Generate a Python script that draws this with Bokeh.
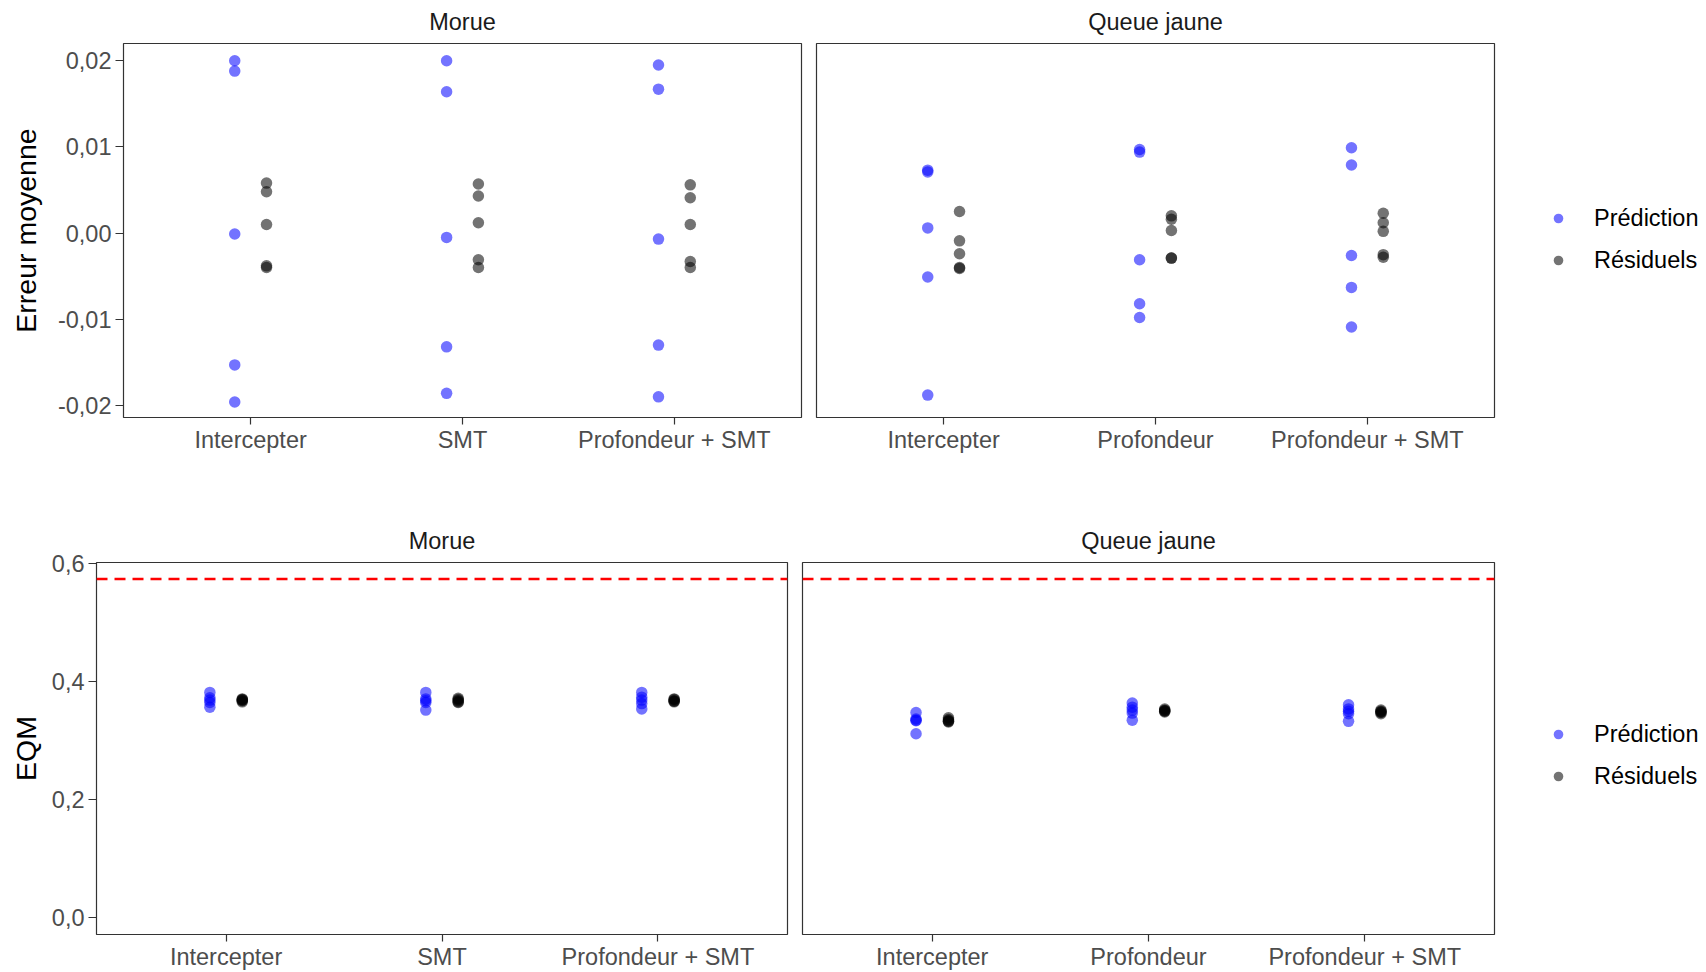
from bokeh.plotting import figure
from bokeh.layouts import row, column
from bokeh.models import (Range1d, FixedTicker, Span, Legend, LegendItem,
                          ColumnDataSource)
from bokeh.transform import dodge
from bokeh.embed import file_html
from bokeh.resources import INLINE

FONT = "Liberation Sans"

# ---------------- data ----------------
models_morue = ["Intercepter", "SMT", "Profondeur + SMT"]
models_qj = ["Intercepter", "Profondeur", "Profondeur + SMT"]

# Erreur moyenne (mean error), 5 folds per model
em_morue_pred = [
    [0.0200, 0.0188, -0.0001, -0.0153, -0.0196],
    [0.0200, 0.0164, -0.0005, -0.0132, -0.0186],
    [0.0195, 0.0167, -0.0007, -0.0130, -0.0190],
]
em_morue_resid = [
    [0.0058, 0.0048, 0.0010, -0.0038, -0.0040],
    [0.0057, 0.0043, 0.0012, -0.0031, -0.0040],
    [0.0056, 0.0041, 0.0010, -0.0033, -0.0040],
]
em_qj_pred = [
    [0.0073, 0.0071, 0.0006, -0.0051, -0.0188],
    [0.0097, 0.0094, -0.0031, -0.0082, -0.0098],
    [0.0099, 0.0079, -0.0026, -0.0063, -0.0109],
]
em_qj_resid = [
    [0.0025, -0.0009, -0.0024, -0.0040, -0.0041],
    [0.0020, 0.0016, 0.0003, -0.0029, -0.0029],
    [0.0023, 0.0012, 0.0002, -0.0025, -0.0028],
]

# EQM (mean squared error)
eqm_morue_pred = [
    [0.382, 0.373, 0.369, 0.365, 0.357],
    [0.382, 0.371, 0.368, 0.365, 0.352],
    [0.382, 0.374, 0.369, 0.363, 0.354],
]
eqm_morue_resid = [
    [0.371, 0.370, 0.369, 0.368, 0.366],
    [0.372, 0.370, 0.368, 0.366, 0.365],
    [0.371, 0.370, 0.368, 0.367, 0.366],
]
eqm_qj_pred = [
    [0.348, 0.337, 0.335, 0.334, 0.312],
    [0.364, 0.357, 0.352, 0.347, 0.335],
    [0.361, 0.354, 0.350, 0.346, 0.333],
]
eqm_qj_resid = [
    [0.339, 0.336, 0.334, 0.333, 0.332],
    [0.354, 0.352, 0.351, 0.350, 0.349],
    [0.352, 0.350, 0.349, 0.348, 0.346],
]
eqm_reference = 0.574

em_ticks = [-0.02, -0.01, 0.0, 0.01, 0.02]
em_tick_labels = ["-0,02", "-0,01", "0,00", "0,01", "0,02"]
eqm_ticks = [0.0, 0.2, 0.4, 0.6]
eqm_tick_labels = ["0,0", "0,2", "0,4", "0,6"]

legend_labels = ["Prédiction", "Résiduels"]
series_colors = ["blue", "black"]

# ---------------- style ----------------
TICK_SIZE = "23.5px"
TITLE_SIZE = "28.5px"
GREY30 = "#4D4D4D"
GREY20 = "#333333"
DOT = 11.5
ALPHA = 0.55


def to_source(values):
    xs, ys = [], []
    for i, vals in enumerate(values):
        for v in vals:
            xs.append(i + 1)
            ys.append(v)
    return ColumnDataSource(dict(x=xs, y=ys))


def make_panel(title, cats, srcs, yr, width, height, mbl, mbr, mbt, mbb,
               title_standoff, yticks=None, ylabels=None, ytitle=None,
               ytitle_standoff=10, hline=None):
    p = figure(width=width, height=height, output_backend="svg",
               toolbar_location=None,
               x_range=Range1d(0.4, len(cats) + 0.6), y_range=Range1d(*yr),
               min_border_left=mbl, min_border_right=mbr,
               min_border_top=mbt, min_border_bottom=mbb,
               y_axis_location="left" if yticks is not None else None)
    p.title.text = title
    p.title.align = "center"
    p.title.vertical_align = "top"
    p.title.text_font = FONT
    p.title.text_font_size = TICK_SIZE
    p.title.text_font_style = "normal"
    p.title.text_color = "#1A1A1A"
    p.title.standoff = title_standoff
    p.grid.visible = False
    p.outline_line_color = GREY20
    p.outline_line_width = 1.2
    p.background_fill_color = "white"
    p.border_fill_color = "white"

    xa = p.xaxis[0]
    xa.ticker = FixedTicker(ticks=list(range(1, len(cats) + 1)))
    xa.major_label_overrides = {i + 1: c for i, c in enumerate(cats)}
    xa.axis_line_color = None
    xa.major_tick_line_color = GREY20
    xa.major_tick_line_width = 1.2
    xa.major_tick_out = 7
    xa.major_tick_in = 0
    xa.minor_tick_line_color = None
    xa.major_label_standoff = 2
    xa.major_label_text_font = FONT
    xa.major_label_text_font_size = TICK_SIZE
    xa.major_label_text_color = GREY30

    if yticks is not None:
        ya = p.yaxis[0]
        ya.ticker = FixedTicker(ticks=yticks)
        ya.major_label_overrides = dict(zip(yticks, ylabels))
        ya.axis_line_color = None
        ya.major_tick_line_color = GREY20
        ya.major_tick_line_width = 1.2
        ya.major_tick_out = 8
        ya.major_tick_in = 0
        ya.minor_tick_line_color = None
        ya.major_label_standoff = 4
        ya.major_label_text_font = FONT
        ya.major_label_text_font_size = TICK_SIZE
        ya.major_label_text_color = GREY30
        ya.axis_label = ytitle
        ya.axis_label_text_font = FONT
        ya.axis_label_text_font_size = TITLE_SIZE
        ya.axis_label_text_font_style = "normal"
        ya.axis_label_text_color = "black"
        ya.axis_label_standoff = ytitle_standoff

    if hline is not None:
        p.add_layout(Span(location=hline, dimension="width", line_color="red",
                          line_width=2.5, line_dash="11 7"))

    for src, off, col in zip(srcs, (-0.075, 0.075), series_colors):
        p.scatter(x=dodge("x", off), y="y", source=src, size=DOT,
                  fill_color=col, line_color=None, fill_alpha=ALPHA)
    return p


def make_legend(srcs, width, height, mbt, mbb, loc):
    # legend-only panel; its ranges exclude the data so only the key is drawn
    lf = figure(width=width, height=height, output_backend="svg",
                toolbar_location=None, x_axis_location=None,
                y_axis_location=None, min_border_left=0, min_border_right=0,
                min_border_top=mbt, min_border_bottom=mbb,
                outline_line_color=None,
                x_range=Range1d(100, 101), y_range=Range1d(100, 101))
    lf.grid.visible = False
    lf.border_fill_color = "white"
    rs = [lf.scatter(x="x", y="y", source=src, size=DOT, fill_color=col,
                     line_color=None, fill_alpha=ALPHA)
          for src, col in zip(srcs, series_colors)]
    leg = Legend(items=[LegendItem(label=l, renderers=[r])
                        for l, r in zip(legend_labels, rs)],
                 location=loc, padding=0, margin=0, spacing=4,
                 glyph_width=24, glyph_height=38, label_height=38,
                 label_standoff=24, border_line_color=None,
                 background_fill_alpha=0,
                 label_text_font=FONT, label_text_font_size=TICK_SIZE,
                 label_text_color="black")
    lf.add_layout(leg)
    return lf


TOP_H = 510
BOT_H = 462
em_range = (-0.0214, 0.0220)
eqm_range = (-0.028, 0.602)

s_em_morue = [to_source(em_morue_pred), to_source(em_morue_resid)]
s_em_qj = [to_source(em_qj_pred), to_source(em_qj_resid)]
s_eqm_morue = [to_source(eqm_morue_pred), to_source(eqm_morue_resid)]
s_eqm_qj = [to_source(eqm_qj_pred), to_source(eqm_qj_resid)]

f1 = make_panel("Morue", models_morue, s_em_morue, em_range,
                808, TOP_H, 123, 7, 43, 93, 13, em_ticks, em_tick_labels,
                "Erreur moyenne", 13)
f2 = make_panel("Queue jaune", models_qj, s_em_qj, em_range,
                688, TOP_H, 8, 2, 43, 93, 13)
l1 = make_legend(s_em_qj, 210, TOP_H, 43, 93, (50, 138))

f3 = make_panel("Morue", models_morue, s_eqm_morue, eqm_range,
                794, BOT_H, 96, 7, 52, 37, 13, eqm_ticks,
                eqm_tick_labels, "EQM", 7, hline=eqm_reference)
f4 = make_panel("Queue jaune", models_qj, s_eqm_qj, eqm_range,
                702, BOT_H, 8, 2, 52, 37, 13, hline=eqm_reference)
l2 = make_legend(s_eqm_qj, 210, BOT_H, 52, 37, (50, 139))

layout = column(row(f1, f2, l1), row(f3, f4, l2))

open("out.html", "w").write(file_html(layout, INLINE))
